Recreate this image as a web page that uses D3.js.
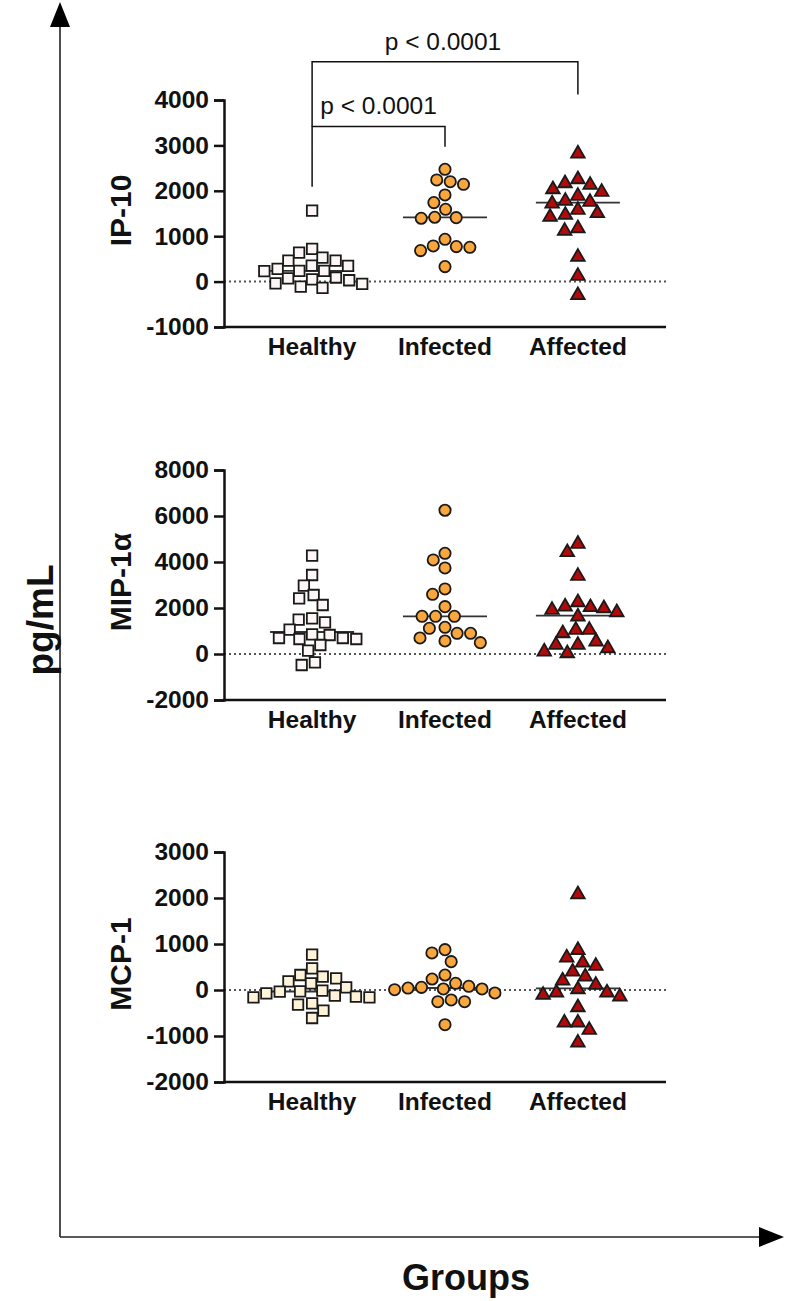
<!DOCTYPE html>
<html lang="en">
<head>
<meta charset="UTF-8">
<title>Cytokines by group</title>
<script src="https://cdn.jsdelivr.net/npm/d3@7"></script>
<style>
   body { margin: 0; background: #fff; }
   text { font-family: Arial, "Liberation Sans", sans-serif; }
</style>
</head>
<body>
<div id="chart"></div>
<script>
// data (pg/mL)
const categories = ['Healthy', 'Infected', 'Affected']

const ip10Healthy = [1563, 720, 640, 530, 460, 350, 460, 345, 230, 235, 235, 280, 90, 50, 70, 30, -50, -40, -140, -110]
const ip10Infected = [2474, 2200, 2143, 2239, 1908, 1740, 1593, 1395, 1409, 1417, 932, 756, 785, 683, 771, 330]
const ip10Affected = [2840, 2150, 2055, 2275, 2187, 1996, 1908, 1798, 1776, 1740, 1527, 1490, 1600, 1446, 1196, 1138, 565, 147, -279]

const mipHealthy = [4275, 3435, 2970, 2420, 2565, 2130, 1550, 1377, 1493, 1058, 826, 696, 696, 652, 652, 855, 391, 145, -478, -362]
const mipInfected = [6250, 4379, 4089, 3741, 2828, 2596, 2059, 1639, 1639, 1639, 1160, 899, 696, 899, 1117, 566, 493]
const mipAffected = [4830, 4466, 3437, 2291, 2030, 2103, 1958, 2074, 1856, 1668, 1088, 1088, 943, 580, 435, 435, 290, 145, 73]

const mcpHealthy = [768, 471, 326, 290, 254, 188, 145, 58, -14, -29, -72, -36, -160, -145, -123, -160, -319, -290, -450, -609]
const mcpInfected = [877, 805, 616, 326, 239, 145, 22, 22, 43, 58, 80, -65, 7, -254, -254, -217, -754]
const mcpAffected = [2100, 890, 725, 616, 544, 420, 312, 225, 130, 36, -36, -36, -87, -123, -355, -689, -689, -848, -1124]

const ip10Ticks = [-1000, 0, 1000, 2000, 3000, 4000]
const mipTicks = [-2000, 0, 2000, 4000, 6000, 8000]
const mcpTicks = [-2000, -1000, 0, 1000, 2000, 3000]

const panels = [
   { title: 'IP-10', ticks: ip10Ticks, top: 100, bottom: 327, series: [ip10Healthy, ip10Infected, ip10Affected], healthyFill: '#fdf6f6' },
   { title: 'MIP-1α', ticks: mipTicks, top: 470, bottom: 700, series: [mipHealthy, mipInfected, mipAffected], healthyFill: '#fdf6f6' },
   { title: 'MCP-1', ticks: mcpTicks, top: 852, bottom: 1082, series: [mcpHealthy, mcpInfected, mcpAffected], healthyFill: '#fdf3d9' }
]

const W = 787, H = 1301
const svg = d3.select('#chart').append('svg')
   .attr('width', W)
   .attr('height', H)

const left = 224, right = 666

const x = d3.scalePoint()
   .domain(categories)
   .range([left, right])
   .padding(0.663)

const shapes = [
   { type: d3.symbolSquare, size: 110 },
   { type: d3.symbolCircle, size: 100 },
   { type: d3.symbolTriangle, size: 80 }
]

// simple beeswarm: nearest free horizontal offset for each point
function swarm(values, cx, y, d) {
   const pts = values.map(v => ({ v, y: y(v) })).sort((a, b) => a.y - b.y)
   const placed = []
   pts.forEach(p => {
      const near = placed.filter(q => Math.abs(q.y - p.y) < d)
      const cands = [0]
      near.forEach(q => {
         const w = Math.sqrt(d * d - (q.y - p.y) ** 2)
         cands.push(q.dx - w, q.dx + w)
      })
      cands.sort((a, b) => Math.abs(a) - Math.abs(b))
      const ok = cands.find(c => near.every(q => Math.abs(c - q.dx) >= Math.sqrt(d * d - (q.y - p.y) ** 2) - 0.01))
      p.dx = ok
      p.x = cx + ok
      placed.push(p)
   })
   return placed
}

panels.forEach(pn => {
   const y = d3.scaleLinear()
      .domain(d3.extent(pn.ticks))
      .range([pn.bottom, pn.top])

   const g = svg.append('g')

   // zero line
   g.append('line')
      .attr('x1', left).attr('x2', right)
      .attr('y1', y(0)).attr('y2', y(0))
      .attr('stroke', '#555')
      .attr('stroke-width', 2)
      .attr('stroke-dasharray', '2,3')

   // y axis
   const yAxis = g.append('g')
      .attr('transform', `translate(${left},0)`)
      .call(d3.axisLeft(y).tickValues(pn.ticks).tickSize(10).tickPadding(5).tickFormat(d => String(d)))
   yAxis.select('.domain').attr('stroke', '#111').attr('stroke-width', 2.5)
   yAxis.selectAll('.tick line').attr('stroke', '#111').attr('stroke-width', 2.5)
   yAxis.selectAll('.tick text')
      .attr('font-size', 24.5)
      .attr('font-weight', 'bold')
      .attr('fill', '#111')
      .attr('font-family', 'Arial, "Liberation Sans", sans-serif')

   // x axis
   g.append('line')
      .attr('x1', left - 1).attr('x2', right)
      .attr('y1', pn.bottom).attr('y2', pn.bottom)
      .attr('stroke', '#111')
      .attr('stroke-width', 2.5)

   g.selectAll('.cat')
      .data(categories)
      .join('text')
      .attr('x', d => x(d))
      .attr('y', pn.bottom + 28)
      .attr('text-anchor', 'middle')
      .attr('font-size', 24.5)
      .attr('font-weight', 'bold')
      .attr('fill', '#111')
      .text(d => d)

   // panel title
   g.append('text')
      .attr('transform', `translate(131,${(pn.top + pn.bottom) / 2 - 3}) rotate(-90)`)
      .attr('text-anchor', 'middle')
      .attr('font-size', 30)
      .attr('font-weight', 'bold')
      .attr('fill', '#111')
      .text(pn.title)

   pn.series.forEach((vals, i) => {
      const cx = x(categories[i])
      const med = d3.median(vals)

      g.append('line')
         .attr('x1', cx - 42).attr('x2', cx + 42)
         .attr('y1', y(med)).attr('y2', y(med))
         .attr('stroke', '#333')
         .attr('stroke-width', 1.8)

      const pts = swarm(vals, cx, y, 13.5)
      const fill = i === 0 ? pn.healthyFill : (i === 1 ? '#f9a63c' : '#b00a0a')
      g.selectAll(null)
         .data(pts)
         .join('path')
         .attr('transform', d => `translate(${d.x},${d.y + (i === 2 ? 1 : 0)})`)
         .attr('d', d3.symbol().type(shapes[i].type).size(shapes[i].size))
         .attr('fill', fill)
         .attr('stroke', '#1a1a1a')
         .attr('stroke-width', 1.8)
   })

   // significance brackets on the first panel
   if (pn.title === 'IP-10') {
      const xh = x('Healthy'), xi = x('Infected'), xa = x('Affected')
      g.append('path')
         .attr('d', `M${xh},${y(3414)}V${y(4845)}H${xa}V${y(4120)}`)
         .attr('fill', 'none').attr('stroke', '#111').attr('stroke-width', 1.5)
      g.append('path')
         .attr('d', `M${xh},${y(2090)}V${y(3414)}H${xi}V${y(2970)}`)
         .attr('fill', 'none').attr('stroke', '#111').attr('stroke-width', 1.5)
      g.append('text')
         .attr('x', (xh + xa) / 2 - 2).attr('y', y(4845) - 12)
         .attr('text-anchor', 'middle')
         .attr('font-size', 24.5)
         .attr('fill', '#111')
         .text('p < 0.0001')
      g.append('text')
         .attr('x', (xh + xi) / 2).attr('y', y(3414) - 13)
         .attr('text-anchor', 'middle')
         .attr('font-size', 24.5)
         .attr('fill', '#111')
         .text('p < 0.0001')
   }
})

// big outer axes with arrows
const ax = 60, ay = 1237
svg.append('line')
   .attr('x1', ax).attr('x2', ax)
   .attr('y1', ay).attr('y2', 20)
   .attr('stroke', '#222').attr('stroke-width', 1.6)
svg.append('path')
   .attr('d', `M${ax},2L${ax + 10},27L${ax - 10},27Z`)
   .attr('fill', '#000')
svg.append('line')
   .attr('x1', ax).attr('x2', 765)
   .attr('y1', ay).attr('y2', ay)
   .attr('stroke', '#222').attr('stroke-width', 1.6)
svg.append('path')
   .attr('d', `M784,${ay}L759,${ay - 10}L759,${ay + 10}Z`)
   .attr('fill', '#000')

svg.append('text')
   .attr('transform', 'translate(53,620) rotate(-90)')
   .attr('text-anchor', 'middle')
   .attr('font-size', 37)
   .attr('font-weight', 'bold')
   .attr('fill', '#111')
   .text('pg/mL')

svg.append('text')
   .attr('x', 466).attr('y', 1290)
   .attr('text-anchor', 'middle')
   .attr('font-size', 36)
   .attr('font-weight', 'bold')
   .attr('fill', '#111')
   .text('Groups')
</script>
</body>
</html>
